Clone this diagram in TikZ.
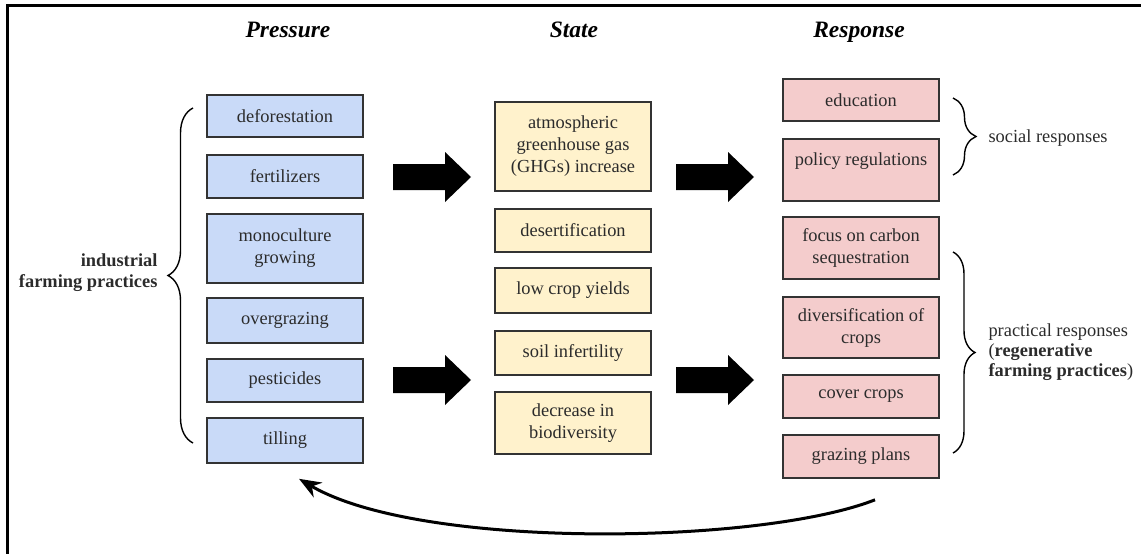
\documentclass[tikz,border=0pt]{standalone}
\usepackage{fontspec}
\setmainfont{Liberation Serif}
\usetikzlibrary{decorations.pathreplacing,arrows.meta,calc}
\definecolor{pblue}{HTML}{C9DAF8}
\definecolor{syellow}{HTML}{FFF2CC}
\definecolor{rpink}{HTML}{F4CCCC}
\definecolor{boxline}{HTML}{333333}
\definecolor{txt}{HTML}{2B2B2B}
\tikzset{
  box/.style={draw=boxline, line width=1.6pt, align=center, text=txt, inner sep=0pt,
    minimum width=156pt, font=\fontsize{18.4}{22}\selectfont},
  pbox/.style={box, fill=pblue},
  sbox/.style={box, fill=syellow},
  rbox/.style={box, fill=rpink},
  title/.style={font=\fontsize{23.5}{28}\selectfont\bfseries\itshape, anchor=base, text=black},
  lbl/.style={font=\fontsize{18.4}{20}\selectfont, text=txt},
  brace/.style={decorate, line width=1.4pt, draw=black},
  blockarrow/.style={fill=black},
}
\newcommand\bigarrow[2]{\fill[blockarrow, shift={(#1,#2)}] (0,-13) -- (52,-13) -- (52,-25) -- (78,0) -- (52,25) -- (52,13) -- (0,13) -- cycle;}
\begin{document}
\begin{tikzpicture}[x=1pt,y=-1pt]
\useasboundingbox (0,0) rectangle (1141,554);
\draw[line width=3pt] (7,560) -- (7,5) -- (1150,5);

% titles
\node[title] (tP) at (288,37) {Pressure};
\node[title] (tS) at (574,37) {State};
\node[title] (tR) at (859,37) {Response};

% pressure
\node[pbox, minimum height=42pt] (def) at (285,116) {deforestation};
\node[pbox, minimum height=43pt] (fert) at (285,176.5) {fertilizers};
\node[pbox, minimum height=69pt] (mono) at (285,248.5) {monoculture\\growing};
\node[pbox, minimum height=45pt] (over) at (285,320.5) {overgrazing};
\node[pbox, minimum height=43pt] (pest) at (285,380.5) {pesticides};
\node[pbox, minimum height=45pt] (till) at (285,440.5) {tilling};

% state
\node[sbox, minimum height=89pt] (ghg) at (573,146.5) {atmospheric\\greenhouse gas\\(GHGs) increase};
\node[sbox, minimum height=43pt] (des) at (573,230.5) {desertification};
\node[sbox, minimum height=45pt] (low) at (573,290.5) {low crop yields};
\node[sbox, minimum height=44pt] (soil) at (573,353) {soil infertility};
\node[sbox, minimum height=62pt] (bio) at (573,423) {decrease in\\biodiversity};

% response
\node[rbox, minimum height=42pt] (edu) at (861,100) {education};
\node[rbox, minimum height=62pt] (pol) at (861,170) {policy regulations\\\mbox{}};
\node[rbox, minimum height=62pt] (foc) at (861,248) {focus on carbon\\sequestration};
\node[rbox, minimum height=61pt] (div) at (861,327.5) {diversification of\\crops};
\node[rbox, minimum height=43pt] (cov) at (861,396.5) {cover crops};
\node[rbox, minimum height=43pt] (gra) at (861,456.5) {grazing plans};

% block arrows
\bigarrow{393}{177}
\bigarrow{393}{380}
\bigarrow{676}{177}
\bigarrow{676}{380}

% braces and labels
\draw[brace, decoration={brace, amplitude=25pt}] (193,443) -- (193,108);
\node[lbl, font=\fontsize{18.4}{21}\selectfont\bfseries, align=right, anchor=east] (ifp) at (161,273) {industrial\\farming practices};

\draw[brace, decoration={brace, amplitude=23pt}] (953,98) -- (953,175);
\node[lbl, anchor=west] (soc) at (985,138) {social responses};

\draw[brace, decoration={brace, amplitude=22pt}] (953,252) -- (953,453);
\node[lbl, anchor=west, align=left] (prac) at (985,352) {practical responses\\(\textbf{regenerative}\\\textbf{farming practices})};

% feedback arrow
\coordinate (fbs) at ($(gra.south)+(14,21)$);
\coordinate (fbe) at ($(till.south)+(14,15)$);
\draw[line width=3pt, -{Stealth[length=22pt,width=17pt,inset=7pt]}] (fbs) .. controls (760,545) and (420,550) .. (fbe);
\end{tikzpicture}
\end{document}
